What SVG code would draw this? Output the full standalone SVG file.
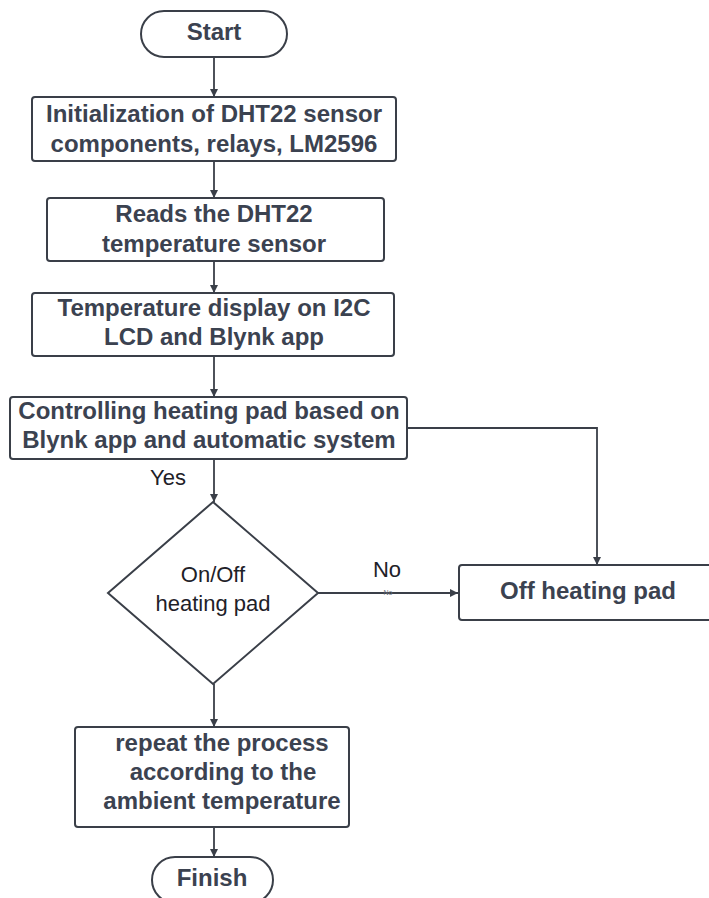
<svg xmlns="http://www.w3.org/2000/svg" width="709" height="898" viewBox="0 0 709 898">
<defs>
<marker id="ah" viewBox="0 0 10 10" refX="10" refY="5" markerWidth="8" markerHeight="8" markerUnits="userSpaceOnUse" orient="auto">
<path d="M0,0 L10,5 L0,10 z" fill="#3a3f48"/>
</marker>
<style>
.box{fill:#fff;stroke:#3a3f48;stroke-width:2}
.t{font-family:"Liberation Sans",Arial,sans-serif;font-size:24px;font-weight:bold;fill:#3b4250;text-anchor:middle}
.n{font-family:"Liberation Sans",Arial,sans-serif;font-size:22px;fill:#1e2128;text-anchor:middle}
.c{fill:none;stroke:#3a3f48;stroke-width:1.8;marker-end:url(#ah)}
</style>
</defs>
<rect width="709" height="898" fill="#fff"/>
<g id="connectors">
<path class="c" d="M214,57 V97"/>
<path class="c" d="M214,161 V198"/>
<path class="c" d="M214,261 V293"/>
<path class="c" d="M214,356 V397"/>
<path class="c" d="M214,459 V502"/>
<path class="c" d="M407,428 H597 V565"/>
<path class="c" d="M318,593 H458"/>
<path class="c" d="M214,684 V727"/>
<path class="c" d="M214,827 V857"/>
<text class="n" x="168" y="485">Yes</text>
<text class="n" x="387" y="577">No</text>
<text x="388" y="595" font-family="Liberation Sans,Arial,sans-serif" font-size="7" fill="#6a6f78" text-anchor="middle">No</text>
</g>
<g id="start">
<rect class="box" x="141" y="11" width="146" height="46" rx="23"/>
<text class="t" x="214" y="40">Start</text>
</g>
<g id="init">
<rect class="box" x="32" y="97" width="364" height="64" rx="3"/>
<text class="t" x="214" y="122">Initialization of DHT22 sensor</text>
<text class="t" x="214" y="152">components, relays, LM2596</text>
</g>
<g id="read">
<rect class="box" x="47" y="198" width="337" height="63" rx="3"/>
<text class="t" x="214" y="222">Reads the DHT22</text>
<text class="t" x="214" y="252">temperature sensor</text>
</g>
<g id="display">
<rect class="box" x="32" y="293" width="362" height="63" rx="3"/>
<text class="t" x="214" y="316">Temperature display on I2C</text>
<text class="t" x="214" y="345">LCD and Blynk app</text>
</g>
<g id="control">
<rect class="box" x="10" y="397" width="397" height="62" rx="3"/>
<text class="t" x="209" y="419">Controlling heating pad based on</text>
<text class="t" x="209" y="448">Blynk app and automatic system</text>
</g>
<g id="decision">
<path class="box" d="M213,502 L318,593 L213,684 L108,593 Z"/>
<text class="n" x="213" y="582">On/Off</text>
<text class="n" x="213" y="611">heating pad</text>
</g>
<g id="off">
<rect class="box" x="459" y="565" width="260" height="55" rx="3"/>
<text class="t" x="588" y="599">Off heating pad</text>
</g>
<g id="repeat">
<rect class="box" x="75" y="727" width="274" height="100" rx="3"/>
<text class="t" x="222" y="751">repeat the process</text>
<text class="t" x="223" y="780">according to the</text>
<text class="t" x="222" y="809">ambient temperature</text>
</g>
<g id="finish">
<rect class="box" x="152" y="857" width="121" height="46" rx="23"/>
<text class="t" x="212" y="886">Finish</text>
</g>
</svg>
